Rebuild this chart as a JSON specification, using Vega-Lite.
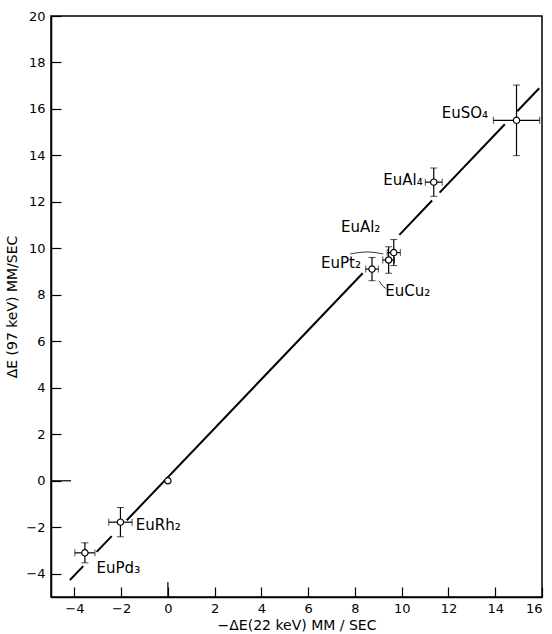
{
  "$schema": "https://vega.github.io/schema/vega-lite/v6.json",
  "width": 491,
  "height": 581,
  "autosize": {"type": "none"},
  "padding": {"left": 51, "top": 16, "right": 10, "bottom": 37},
  "background": "white",
  "config": {
    "font": "DejaVu Sans",
    "view": {"stroke": "black", "strokeWidth": 1.5},
    "axis": {
      "grid": false,
      "domainColor": "black",
      "domainWidth": 1.5,
      "tickColor": "black",
      "tickWidth": 1.2,
      "tickSize": -10,
      "labelColor": "black",
      "labelFontSize": 13,
      "labelFont": "DejaVu Sans",
      "titleFont": "DejaVu Sans",
      "titleFontSize": 14,
      "titleFontWeight": "normal",
      "titleColor": "black"
    }
  },
  "datasets": {
    "points": [
      {"name": "origin", "x": 0, "y": 0, "xe": 0, "ye": 0},
      {"name": "EuPd3", "x": -3.55, "y": -3.1, "xe": 0.43, "ye": 0.43},
      {"name": "EuRh2", "x": -2.03, "y": -1.78, "xe": 0.5, "ye": 0.63},
      {"name": "EuCu2", "x": 8.73, "y": 9.11, "xe": 0.27, "ye": 0.5},
      {"name": "EuPt2", "x": 9.44, "y": 9.5, "xe": 0.25, "ye": 0.57},
      {"name": "EuAl2", "x": 9.66, "y": 9.82, "xe": 0.28, "ye": 0.56},
      {"name": "EuAl4", "x": 11.37, "y": 12.85, "xe": 0.36, "ye": 0.61},
      {"name": "EuSO4", "x": 14.91, "y": 15.51, "xe": 0.99, "ye": 1.52}
    ],
    "fit": [
      {"seg": 1, "x": -4.19, "y": -4.27},
      {"seg": 1, "x": -3.62, "y": -3.67},
      {"seg": 2, "x": -3.05, "y": -3.06},
      {"seg": 2, "x": -2.4, "y": -2.38},
      {"seg": 3, "x": -1.76, "y": -1.7},
      {"seg": 3, "x": 8.33, "y": 8.93},
      {"seg": 4, "x": 9.9, "y": 10.58},
      {"seg": 4, "x": 11.3, "y": 12.06},
      {"seg": 5, "x": 11.62, "y": 12.4},
      {"seg": 5, "x": 14.41, "y": 15.34},
      {"seg": 6, "x": 14.94, "y": 15.9},
      {"seg": 6, "x": 15.88, "y": 16.89}
    ],
    "labelsLeft": [
      {"label": "EuPd₃", "x": -3.05, "y": -3.75},
      {"label": "EuRh₂", "x": -1.37, "y": -1.89},
      {"label": "EuAl₂", "x": 7.4, "y": 10.94},
      {"label": "EuCu₂", "x": 9.3, "y": 8.17}
    ],
    "labelsRight": [
      {"label": "EuPt₂", "x": 8.26, "y": 9.39},
      {"label": "EuAl₄", "x": 10.9, "y": 12.95},
      {"label": "EuSO₄", "x": 13.69, "y": 15.84}
    ],
    "leaders": [
      {"seg": "a", "x": 7.8, "y": 9.76},
      {"seg": "a", "x": 8.54, "y": 9.89},
      {"seg": "a", "x": 9.21, "y": 9.76},
      {"seg": "b", "x": 9.33, "y": 8.27},
      {"seg": "b", "x": 9.15, "y": 8.4},
      {"seg": "b", "x": 9.04, "y": 8.6}
    ],
    "zeroTicks": [
      {"x": -5, "x2": -4.14, "y": 0, "y2": 0},
      {"x": 0, "x2": 0, "y": -5, "y2": -4.35}
    ]
  },
  "encoding": {
    "x": {
      "field": "x",
      "type": "quantitative",
      "scale": {"domain": [-5, 16], "nice": false, "zero": false},
      "axis": {
        "title": "−ΔE(22 keV)  MM / SEC",
        "values": [-4, -2, 0, 2, 4, 6, 8, 10, 12, 14, 16],
        "labelPadding": 15,
        "titlePadding": 3
      }
    },
    "y": {
      "field": "y",
      "type": "quantitative",
      "scale": {"domain": [-5, 20], "nice": false, "zero": false},
      "axis": {
        "title": "ΔE (97 keV) MM/SEC",
        "values": [-4, -2, 0, 2, 4, 6, 8, 10, 12, 14, 16, 18, 20],
        "labelPadding": 16,
        "titlePadding": 6
      }
    }
  },
  "layer": [
    {
      "data": {"name": "fit"},
      "mark": {"type": "line", "color": "black", "strokeWidth": 2},
      "encoding": {"detail": {"field": "seg"}}
    },
    {
      "data": {"name": "points"},
      "transform": [{"filter": "datum.xe > 0"}],
      "mark": {"type": "errorbar", "ticks": {"size": 7, "color": "black", "strokeWidth": 1.2}, "rule": {"color": "black", "strokeWidth": 1.2}},
      "encoding": {"xError": {"field": "xe"}}
    },
    {
      "data": {"name": "points"},
      "transform": [{"filter": "datum.ye > 0"}],
      "mark": {"type": "errorbar", "ticks": {"size": 7, "color": "black", "strokeWidth": 1.2}, "rule": {"color": "black", "strokeWidth": 1.2}},
      "encoding": {"yError": {"field": "ye"}}
    },
    {
      "data": {"name": "points"},
      "mark": {"type": "point", "shape": "circle", "filled": false, "fill": "white", "stroke": "black", "strokeWidth": 1.2, "size": 40, "opacity": 1}
    },
    {
      "data": {"name": "leaders"},
      "mark": {"type": "line", "color": "black", "strokeWidth": 0.8, "interpolate": "basis"},
      "encoding": {"detail": {"field": "seg"}}
    },
    {
      "data": {"name": "labelsLeft"},
      "mark": {"type": "text", "align": "left", "baseline": "middle", "fontSize": 15, "color": "black"},
      "encoding": {"text": {"field": "label"}}
    },
    {
      "data": {"name": "labelsRight"},
      "mark": {"type": "text", "align": "right", "baseline": "middle", "fontSize": 15, "color": "black"},
      "encoding": {"text": {"field": "label"}}
    },
    {
      "data": {"name": "zeroTicks"},
      "mark": {"type": "rule", "color": "black", "strokeWidth": 1.2},
      "encoding": {"x2": {"field": "x2"}, "y2": {"field": "y2"}}
    }
  ]
}
